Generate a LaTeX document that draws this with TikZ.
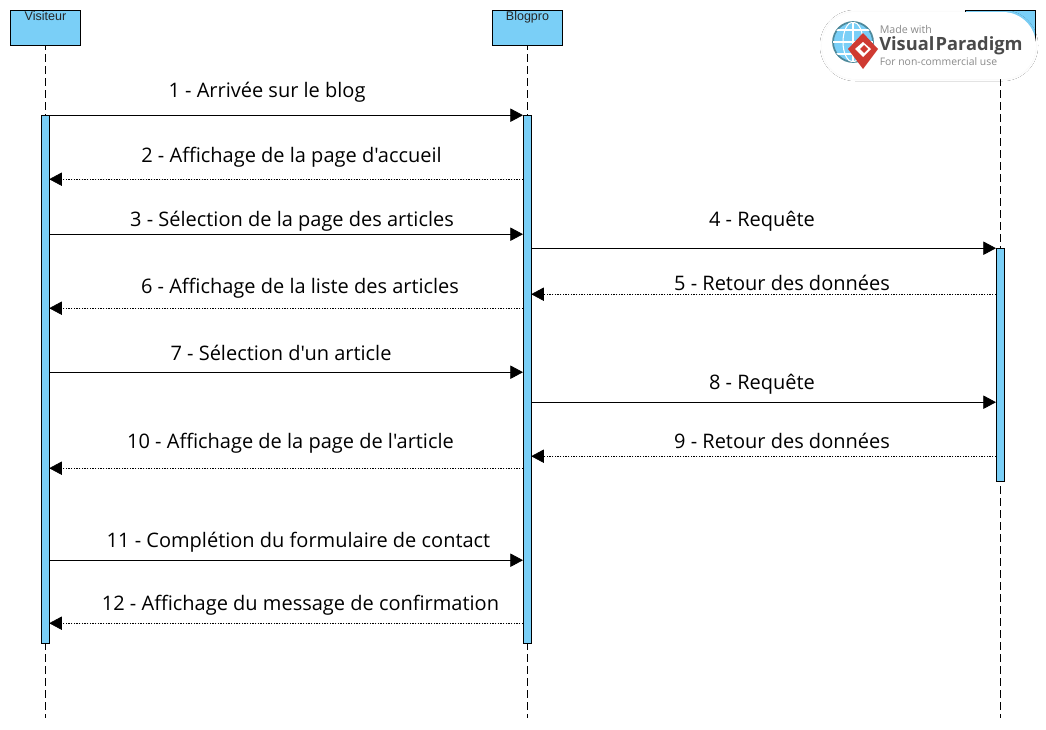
\documentclass[tikz,border=0pt]{standalone}
\usepackage{fontspec}
\newfontfamily\lblfont{Open Sans}
\newfontfamily\headfont{Liberation Sans}
\usepackage{xcolor}
\usetikzlibrary{arrows.meta,positioning,calc,shadows.blur}
\definecolor{lifefill}{HTML}{7ACFF7}
\definecolor{logored}{HTML}{CF3A32}
\definecolor{logoteal}{HTML}{4F8A9C}
\definecolor{logogrey}{HTML}{8A8A8A}
\definecolor{logodark}{HTML}{4A4A4A}

\begin{document}
\begin{tikzpicture}[x=0.75pt,y=-0.75pt,
  head/.style={draw,line width=0.75pt,fill=lifefill,minimum width=52.5pt,minimum height=26.25pt,inner sep=0pt},
  headtxt/.style={font=\headfont\fontsize{9.4pt}{11pt}\selectfont,text=black!85,inner sep=0pt},
  life/.style={line width=0.75pt,dash pattern=on 6pt off 3pt,dash phase=3pt},
  bar/.style={draw,line width=0.75pt,fill=lifefill,minimum width=6pt,inner sep=0pt},
  msg/.style={-{Triangle[length=9.5pt,width=10pt]},line width=0.6pt},
  ret/.style={-{Triangle[length=9.5pt,width=10pt]},line width=0.5pt,dash pattern=on 1.1pt off 0.9pt,shorten >=-0.6pt},
  lbl/.style={font=\lblfont\fontsize{15pt}{18pt}\selectfont,text=black,inner sep=0pt,anchor=base},
  logotxt/.style={inner sep=0pt,anchor=west},
]
  \useasboundingbox (0,0) rectangle (1046,729);
  \fill[white] (0,0) rectangle (1046,729);

  % lifelines
  \foreach \i/\x/\name in {vis/45.5/Visiteur,blog/527.5/Blogpro,data/1000.5/{}} {
    \node[head] (h\i) at (\x,28) {};
    \node[headtxt,anchor=north] (t\i) at ($(h\i.north)+(0,1.5)$) {\name};
    \coordinate (e\i) at (\x,718);
    \draw[life] (h\i.south) -- (e\i);
  }

  \node[bar,minimum height=396pt,anchor=north] (bvis) at (45.5,115.2) {};
  \node[bar,minimum height=396pt,anchor=north] (bblog) at (527.5,115.2) {};
  \node[bar,minimum height=175pt,anchor=north] (bdata) at (1000.5,247.6) {};

  % messages
  \foreach \i/\st/\a/\b/\y/\lx/\ly/\txt in {
    1/msg/bvis.east/bblog.west/115.2/267/97.5/{1 - Arrivée sur le blog},
    2/ret/bblog.west/bvis.east/179.2/291.5/162.5/{2 - Affichage de la page d'accueil},
    3/msg/bvis.east/bblog.west/234.2/292/226.5/{3 - Sélection de la page des articles},
    4/msg/bblog.east/bdata.west/248.2/762/226.5/{4 - Requête},
    5/ret/bdata.west/bblog.east/294.2/782/290.5/{5 - Retour des données},
    6/ret/bblog.west/bvis.east/308.2/300/293.5/{6 - Affichage de la liste des articles},
    7/msg/bvis.east/bblog.west/372.2/281/360.5/{7 - Sélection d'un article},
    8/msg/bblog.east/bdata.west/402.2/762/389.5/{8 - Requête},
    9/ret/bdata.west/bblog.east/456.2/782/448.5/{9 - Retour des données},
    10/ret/bblog.west/bvis.east/468.2/290.5/448.5/{10 - Affichage de la page de l'article},
    11/msg/bvis.east/bblog.west/560.2/298.5/547.5/{11 - Complétion du formulaire de contact},
    12/ret/bblog.west/bvis.east/623.2/300.5/610.5/{12 - Affichage du message de confirmation}} {
    \coordinate (m\i) at (0,\y);
    \draw[\st] (\a |- m\i) -- (\b |- m\i);
    \node[lbl] (l\i) at (\lx,\ly) {\txt};
  }

  % badge
  \node[draw=none,fill=white,rounded corners=25pt,minimum width=160.5pt,minimum height=50.25pt,
    blur shadow={shadow blur steps=12,shadow xshift=0pt,shadow yshift=0pt,shadow blur radius=1.5pt,shadow opacity=5}] (badge) at (929,45.5) {};
  \node[circle,draw=logoteal,line width=1.3pt,fill=lifefill,minimum size=30pt,inner sep=0pt] (globe) at (853,42) {};
  \begin{scope}
    \clip (853,42) circle (20);
    \foreach \dy in {-12,0,12} {\draw[white,line width=0.8pt] (830,42+\dy) -- (876,42+\dy);}
    \draw[white,line width=0.8pt] (853,22) -- (853,62);
    \draw[white,line width=0.8pt] (853,42) ellipse (10 and 20);
  \end{scope}
  \fill[logored] (863,33) -- (878,49) -- (863,69) -- (848,49) -- cycle;
  \fill[white] (863,42) -- (871,49) -- (863,57) -- (855,49) -- cycle;
  \fill[logored] (864,45) -- (868,49) -- (864,53) -- (860,49) -- cycle;
  \node[logotxt,text=logogrey,font=\lblfont\fontsize{8pt}{9pt}\selectfont] (made) at (879.5,29.5) {Made with};
  \node[logotxt,text=logodark,font=\lblfont\bfseries\fontsize{13.7pt}{15pt}\selectfont] (vp) at (879,45.5) {Visual\kern1pt Paradigm};
  \node[logotxt,text=logogrey,font=\lblfont\fontsize{7.8pt}{9pt}\selectfont] (nc) at (879.5,62) {For non-commercial use};
\end{tikzpicture}
\end{document}
